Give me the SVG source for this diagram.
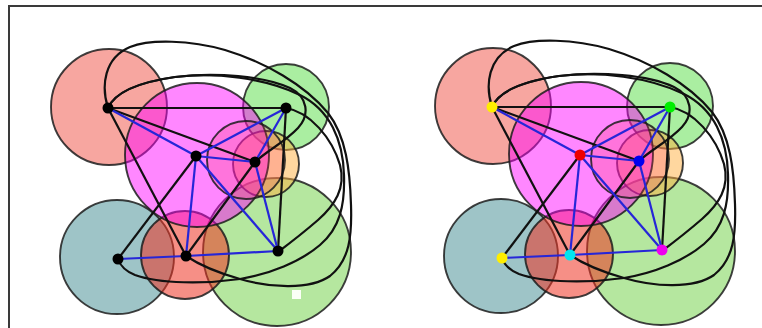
<svg xmlns="http://www.w3.org/2000/svg" width="762" height="328" viewBox="0 0 762 328">
<style>
.reg{stroke:#1c1c1c;stroke-opacity:.85;stroke-width:1.9}
.salmon{fill:#f26b60;fill-opacity:.6}
.magenta{fill:#ff00ff;fill-opacity:.47}
.gtr{fill:#55dd44;fill-opacity:.5}
.pink{fill:#ff3060;fill-opacity:.22}
.orange{fill:#ffb040;fill-opacity:.5}
.teal{fill:#3d8a8f;fill-opacity:.5}
.red{fill:#ee3322;fill-opacity:.55}
.gbr{fill:#6ccf40;fill-opacity:.5}
.curve{fill:none;stroke:#111;stroke-width:2.2}
.blk{stroke:#111;stroke-width:2.2}
.blu{stroke:#2626d8;stroke-width:2.2}
.frame{stroke:#3a3a3a;stroke-width:2;fill:none}
</style>
<rect width="762" height="328" fill="#fff"/>
<path class="frame" d="M9,328 V6 H762"/>

<g id="panel-left">
  <g id="regions-left">
    <circle class="reg salmon" cx="109" cy="107" r="58"/>
    <circle class="reg teal" cx="117" cy="257" r="57"/>
    <circle class="reg gbr" cx="277" cy="252" r="74"/>
    <circle class="reg red" cx="185" cy="255" r="44"/>
    <circle class="reg gtr" cx="286" cy="107" r="43"/>
    <circle class="reg orange" cx="266" cy="164" r="33"/>
    <circle class="reg magenta" cx="197" cy="155" r="72"/>
    <circle class="reg pink" cx="246" cy="160" r="39"/>
  </g>
  <rect x="292" y="290" width="9" height="9" fill="#fbfff6"/>
  <g id="connectors-left">
    <path class="curve" d="M108,108 C101,86 104,58 130,47 C150,39 190,40 225,50 C265,62 305,85 328,113 C346,136 350,170 351,205 C352,235 350,260 330,276 C310,290 270,288 240,279 C215,272 198,264 186,256"/>
    <path class="curve" d="M108,108 C115,92 140,82 175,77 C215,72 265,78 300,95 C330,110 343,140 344,175 C345,205 340,228 320,245 C300,262 270,274 240,279 C205,284 160,284 135,275 C125,271 120,265 118,259"/>
    <path class="curve" d="M108,108 C115,92 140,82 175,77 C215,72 265,76 290,88 C308,97 310,115 298,128 C285,142 268,150 255,162"/>
    <path class="curve" d="M286,108 C310,112 332,138 340,165 C346,188 335,205 318,220 C303,233 290,243 278,252"/>
    <line class="blk" x1="108" y1="108" x2="286" y2="108"/>
    <line class="blk" x1="108" y1="108" x2="255" y2="162"/>
    <line class="blk" x1="108" y1="108" x2="186" y2="256"/>
    <line class="blk" x1="286" y1="108" x2="278" y2="251"/>
    <line class="blk" x1="186" y1="256" x2="255" y2="162"/>
    <line class="blk" x1="196" y1="156" x2="118" y2="259"/>
    <line class="blu" x1="108" y1="108" x2="196" y2="156"/>
    <line class="blu" x1="286" y1="108" x2="196" y2="156"/>
    <line class="blu" x1="286" y1="108" x2="255" y2="162"/>
    <line class="blu" x1="196" y1="156" x2="255" y2="162"/>
    <line class="blu" x1="196" y1="156" x2="186" y2="256"/>
    <line class="blu" x1="196" y1="156" x2="278" y2="251"/>
    <line class="blu" x1="255" y1="162" x2="278" y2="251"/>
    <line class="blu" x1="118" y1="259" x2="186" y2="256"/>
    <line class="blu" x1="186" y1="256" x2="278" y2="251"/>
  </g>
  <g id="L-tl"><circle cx="108" cy="108" r="5.5" fill="#000"/></g>
  <g id="L-tr"><circle cx="286" cy="108" r="5.5" fill="#000"/></g>
  <g id="L-c"><circle cx="196" cy="156" r="5.5" fill="#000"/></g>
  <g id="L-rc"><circle cx="255" cy="162" r="5.5" fill="#000"/></g>
  <g id="L-bl"><circle cx="118" cy="259" r="5.5" fill="#000"/></g>
  <g id="L-bm"><circle cx="186" cy="256" r="5.5" fill="#000"/></g>
  <g id="L-br"><circle cx="278" cy="251" r="5.5" fill="#000"/></g>
</g>

<g id="panel-right" transform="translate(384,-1)">
  <g id="regions-right">
    <circle class="reg salmon" cx="109" cy="107" r="58"/>
    <circle class="reg teal" cx="117" cy="257" r="57"/>
    <circle class="reg gbr" cx="277" cy="252" r="74"/>
    <circle class="reg red" cx="185" cy="255" r="44"/>
    <circle class="reg gtr" cx="286" cy="107" r="43"/>
    <circle class="reg orange" cx="266" cy="164" r="33"/>
    <circle class="reg magenta" cx="197" cy="155" r="72"/>
    <circle class="reg pink" cx="246" cy="160" r="39"/>
  </g>
  <g id="connectors-right">
    <path class="curve" d="M108,108 C101,86 104,58 130,47 C150,39 190,40 225,50 C265,62 305,85 328,113 C346,136 350,170 351,205 C352,235 350,260 330,276 C310,290 270,288 240,279 C215,272 198,264 186,256"/>
    <path class="curve" d="M108,108 C115,92 140,82 175,77 C215,72 265,78 300,95 C330,110 343,140 344,175 C345,205 340,228 320,245 C300,262 270,274 240,279 C205,284 160,284 135,275 C125,271 120,265 118,259"/>
    <path class="curve" d="M108,108 C115,92 140,82 175,77 C215,72 265,76 290,88 C308,97 310,115 298,128 C285,142 268,150 255,162"/>
    <path class="curve" d="M286,108 C310,112 332,138 340,165 C346,188 335,205 318,220 C303,233 290,243 278,252"/>
    <line class="blk" x1="108" y1="108" x2="286" y2="108"/>
    <line class="blk" x1="108" y1="108" x2="255" y2="162"/>
    <line class="blk" x1="108" y1="108" x2="186" y2="256"/>
    <line class="blk" x1="286" y1="108" x2="278" y2="251"/>
    <line class="blk" x1="186" y1="256" x2="255" y2="162"/>
    <line class="blk" x1="196" y1="156" x2="118" y2="259"/>
    <line class="blu" x1="108" y1="108" x2="196" y2="156"/>
    <line class="blu" x1="286" y1="108" x2="196" y2="156"/>
    <line class="blu" x1="286" y1="108" x2="255" y2="162"/>
    <line class="blu" x1="196" y1="156" x2="255" y2="162"/>
    <line class="blu" x1="196" y1="156" x2="186" y2="256"/>
    <line class="blu" x1="196" y1="156" x2="278" y2="251"/>
    <line class="blu" x1="255" y1="162" x2="278" y2="251"/>
    <line class="blu" x1="118" y1="259" x2="186" y2="256"/>
    <line class="blu" x1="186" y1="256" x2="278" y2="251"/>
  </g>
  <g id="R-tl"><circle cx="108" cy="108" r="5.5" fill="#ffee00"/></g>
  <g id="R-tr"><circle cx="286" cy="108" r="5.5" fill="#00ee00"/></g>
  <g id="R-c"><circle cx="196" cy="156" r="5.5" fill="#ee0000"/></g>
  <g id="R-rc"><circle cx="255" cy="162" r="5.5" fill="#0000ee"/></g>
  <g id="R-bl"><circle cx="118" cy="259" r="5.5" fill="#ffee00"/></g>
  <g id="R-bm"><circle cx="186" cy="256" r="5.5" fill="#00e5ee"/></g>
  <g id="R-br"><circle cx="278" cy="251" r="5.5" fill="#ee00ee"/></g>
</g>
</svg>
